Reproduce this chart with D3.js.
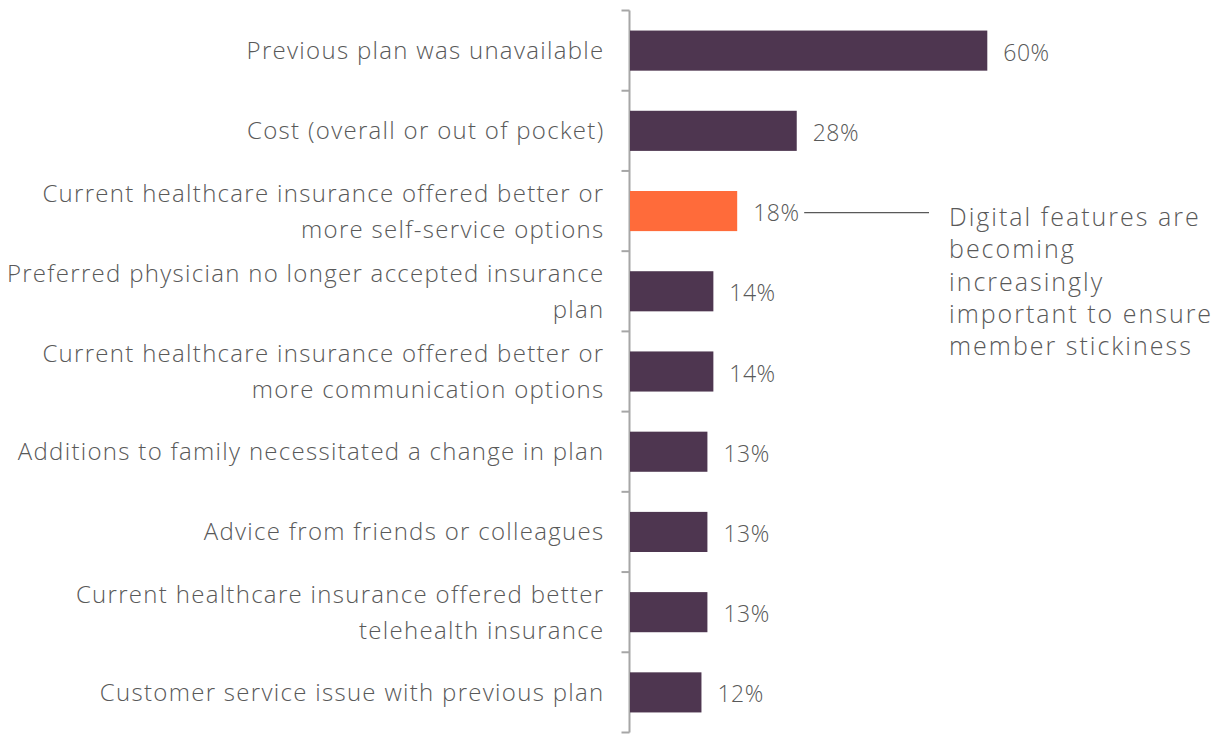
<!DOCTYPE html>
<html>
<head>
<meta charset="utf-8">
<script src="https://cdn.jsdelivr.net/npm/d3@7"></script>
<style>
  html, body { margin: 0; padding: 0; background: #ffffff; }
  svg { display: block; }
  text { font-family: "Open Sans", sans-serif; font-weight: 300; fill: #595959; }
</style>
</head>
<body>
<svg id="chart" width="1226" height="734"></svg>
<script>
// Reasons for switching health insurance plans (share of respondents)
const categories = [
  "Previous plan was unavailable",
  "Cost (overall or out of pocket)",
  "Current healthcare insurance offered better or more self-service options",
  "Preferred physician no longer accepted insurance plan",
  "Current healthcare insurance offered better or more communication options",
  "Additions to family necessitated a change in plan",
  "Advice from friends or colleagues",
  "Current healthcare insurance offered better telehealth insurance",
  "Customer service issue with previous plan"
];
// Wrapped label lines for each category
const labelLines = [
  ["Previous plan was unavailable"],
  ["Cost (overall or out of pocket)"],
  ["Current healthcare insurance offered better or", "more self-service options"],
  ["Preferred physician no longer accepted insurance", "plan"],
  ["Current healthcare insurance offered better or", "more communication options"],
  ["Additions to family necessitated a change in plan"],
  ["Advice from friends or colleagues"],
  ["Current healthcare insurance offered better", "telehealth insurance"],
  ["Customer service issue with previous plan"]
];
const values = [60, 28, 18, 14, 14, 13, 13, 13, 12];
const highlighted = "Current healthcare insurance offered better or more self-service options";
const calloutLines = [
  "Digital features are",
  "becoming",
  "increasingly",
  "important to ensure",
  "member stickiness"
];

const svg = d3.select("#chart");
const axisX = 629.5;

const x = d3.scaleLinear().domain([0, 60]).range([axisX + 0.5, 987.3]);
const y = d3.scaleBand()
  .domain(categories)
  .range([10.5, 732.5])
  .paddingInner(0.5)
  .paddingOuter(0.25);

const data = categories.map((c, i) => ({ cat: c, value: values[i], lines: labelLines[i] }));

// Category axis: vertical line with ticks at band boundaries
const boundaries = categories.map(c => y(c) - y.step() * 0.25);
boundaries.push(boundaries[boundaries.length - 1] + y.step());
const axisG = svg.append("g");
axisG.append("line")
  .attr("x1", axisX).attr("x2", axisX)
  .attr("y1", boundaries[0]).attr("y2", boundaries[boundaries.length - 1])
  .attr("stroke", "#a6a6a6").attr("stroke-width", 2);
axisG.selectAll("line.tick").data(boundaries).join("line")
  .attr("class", "tick")
  .attr("x1", axisX - 8).attr("x2", axisX)
  .attr("y1", d => d).attr("y2", d => d)
  .attr("stroke", "#a6a6a6").attr("stroke-width", 2);

// Bars
svg.append("g").selectAll("rect").data(data).join("rect")
  .attr("x", x(0))
  .attr("y", d => y(d.cat))
  .attr("width", d => x(d.value) - x(0))
  .attr("height", y.bandwidth())
  .attr("fill", d => d.cat === highlighted ? "#ff6b3a" : "#4e3650");

// Category labels
const lineH = 36;
const labels = svg.append("g").selectAll("text").data(data).join("text")
  .attr("text-anchor", "end")
  .attr("font-size", 24)
  .attr("letter-spacing", 1.3)
  .attr("dominant-baseline", "central");
labels.each(function(d) {
  const t = d3.select(this);
  const cy = y(d.cat) + y.bandwidth() / 2 - 1.5;
  const n = d.lines.length;
  d.lines.forEach((ln, i) => {
    t.append("tspan")
      .attr("x", axisX - 25)
      .attr("y", cy + (i - (n - 1) / 2) * lineH)
      .text(ln);
  });
});

// Value labels
svg.append("g").selectAll("text").data(data).join("text")
  .attr("x", d => x(d.value) + 16)
  .attr("y", d => y(d.cat) + y.bandwidth() / 2 + 1)
  .attr("dominant-baseline", "central")
  .attr("font-size", 23)
  .attr("letter-spacing", 0.5)
  .text(d => d.value + "%");

// Callout for the highlighted bar
const hv = values[categories.indexOf(highlighted)];
const hy = y(highlighted) + y.bandwidth() / 2 + 1.5;
svg.append("line")
  .attr("x1", x(hv) + 67).attr("x2", 929)
  .attr("y1", hy).attr("y2", hy)
  .attr("stroke", "#595959").attr("stroke-width", 1.2);

const callout = svg.append("text")
  .attr("font-size", 25)
  .attr("letter-spacing", 2.0)
  .attr("dominant-baseline", "central");
calloutLines.forEach((ln, i) => {
  callout.append("tspan")
    .attr("x", 949)
    .attr("y", 216 + i * 32.3)
    .text(ln);
});
</script>
</body>
</html>
